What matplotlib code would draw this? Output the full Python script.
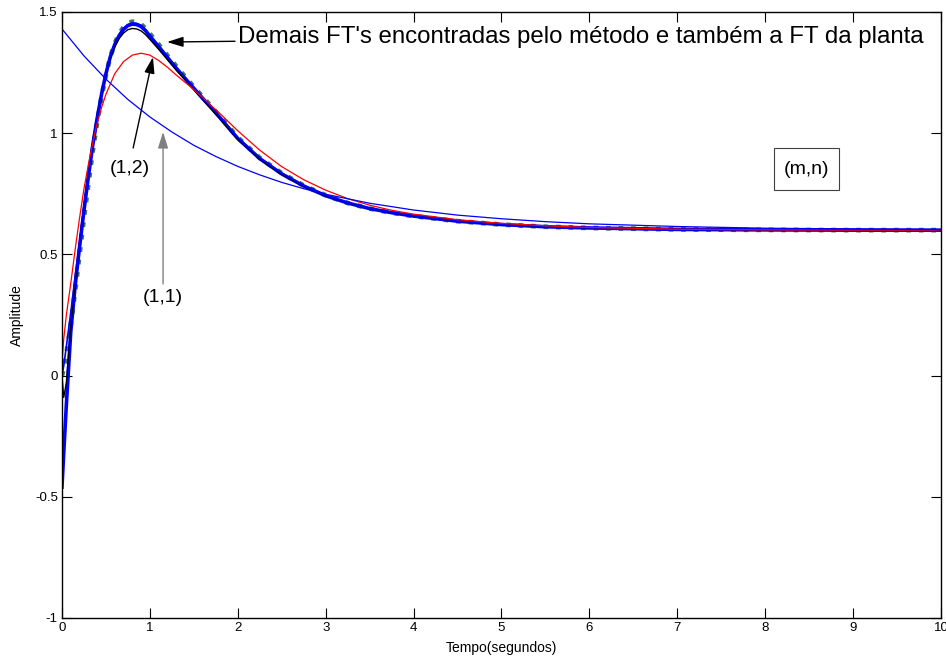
import matplotlib
matplotlib.use("Agg")
import matplotlib.pyplot as plt
from matplotlib.patches import Rectangle

plt.rcParams['font.family'] = ['Liberation Sans', 'DejaVu Sans']

# tempo comum das respostas ao degrau das FT's encontradas
t_main = [0, 0.02, 0.05, 0.1, 0.15, 0.2, 0.25, 0.3, 0.35, 0.4, 0.45, 0.5,
          0.55, 0.6, 0.65, 0.7, 0.75, 0.8, 0.85, 0.9, 0.95, 1.0, 1.1, 1.2,
          1.3, 1.4, 1.5, 1.6, 1.7, 1.8, 1.9, 2.0, 2.25, 2.5, 2.75, 3.0, 3.25,
          3.5, 3.75, 4.0, 4.5, 5.0, 5.5, 6.0, 7.0, 8.0, 9.0, 10.0]

# FT da planta (pontilhado verde)
y_planta = [0, 0.03, 0.09, 0.21, 0.35, 0.50, 0.65, 0.79, 0.925, 1.045, 1.15,
            1.24, 1.315, 1.37, 1.41, 1.437, 1.453, 1.46, 1.458, 1.449, 1.432,
            1.41, 1.366, 1.32, 1.276, 1.233, 1.191, 1.15, 1.109, 1.068, 1.025,
            0.982, 0.898, 0.835, 0.784, 0.744, 0.712, 0.689, 0.672, 0.658,
            0.637, 0.623, 0.614, 0.609, 0.603, 0.601, 0.600, 0.600]

# demais FT's
y_azul_grossa = [-0.46, -0.32, -0.12, 0.18, 0.37, 0.53, 0.68, 0.82, 0.95,
                 1.06, 1.16, 1.245, 1.315, 1.365, 1.402, 1.428, 1.444, 1.45,
                 1.448, 1.44, 1.423, 1.40, 1.357, 1.312, 1.268, 1.226, 1.185,
                 1.144, 1.104, 1.063, 1.02, 0.978, 0.895, 0.832, 0.782, 0.742,
                 0.712, 0.689, 0.672, 0.658, 0.637, 0.623, 0.614, 0.609,
                 0.603, 0.601, 0.600, 0.600]

y_preta = [0, -0.09, -0.03, 0.20, 0.38, 0.55, 0.70, 0.84, 0.965, 1.07, 1.165,
           1.245, 1.31, 1.357, 1.39, 1.413, 1.427, 1.432, 1.43, 1.422, 1.407,
           1.387, 1.346, 1.303, 1.26, 1.22, 1.18, 1.139, 1.099, 1.058, 1.016,
           0.975, 0.893, 0.83, 0.781, 0.741, 0.712, 0.689, 0.672, 0.658,
           0.637, 0.623, 0.614, 0.609, 0.603, 0.601, 0.600, 0.600]

y_azul = [0, 0.04, 0.12, 0.26, 0.41, 0.55, 0.70, 0.835, 0.96, 1.07, 1.165,
          1.25, 1.32, 1.37, 1.407, 1.433, 1.448, 1.455, 1.453, 1.445, 1.428,
          1.405, 1.361, 1.316, 1.272, 1.23, 1.189, 1.148, 1.108, 1.067, 1.024,
          0.982, 0.898, 0.835, 0.784, 0.744, 0.713, 0.69, 0.673, 0.659,
          0.638, 0.624, 0.615, 0.609, 0.603, 0.601, 0.600, 0.600]

# FT (1,2)
t_12 = [0, 0.02, 0.05, 0.1, 0.15, 0.2, 0.25, 0.3, 0.35, 0.4, 0.45, 0.5, 0.6,
        0.7, 0.8, 0.9, 1.0, 1.1, 1.2, 1.3, 1.4, 1.5, 1.6, 1.7, 1.8, 1.9, 2.0,
        2.25, 2.5, 2.75, 3.0, 3.25, 3.5, 3.75, 4.0, 4.5, 5.0, 5.5, 6.0, 7.0,
        8.0, 9.0, 10.0]
y_12 = [0.05, 0.15, 0.25, 0.38, 0.52, 0.65, 0.77, 0.87, 0.96, 1.04, 1.105,
        1.16, 1.245, 1.295, 1.322, 1.33, 1.322, 1.30, 1.272, 1.24, 1.21,
        1.18, 1.147, 1.113, 1.08, 1.045, 1.01, 0.93, 0.862, 0.808, 0.765,
        0.73, 0.703, 0.682, 0.666, 0.643, 0.628, 0.618, 0.611, 0.604, 0.601,
        0.600, 0.600]

# FT (1,1)
t_11 = [0, 0.25, 0.5, 0.75, 1.0, 1.25, 1.5, 1.75, 2.0, 2.25, 2.5, 2.75, 3.0,
        3.5, 4.0, 4.5, 5.0, 5.5, 6.0, 7.0, 8.0, 9.0, 10.0]
y_11 = [1.43, 1.319, 1.223, 1.139, 1.067, 1.005, 0.95, 0.904, 0.863, 0.828,
        0.797, 0.771, 0.748, 0.711, 0.683, 0.662, 0.647, 0.635, 0.626, 0.615,
        0.608, 0.605, 0.602]

fig = plt.figure(figsize=(9.46, 6.58), dpi=100)
ax = fig.add_axes([0.0655, 0.0608, 0.9292, 0.921])

ax.plot(t_main, y_planta, ':', color='#3d7a55', lw=3.4)
ax.plot(t_main, y_azul_grossa, '-', color='#0000ff', lw=2.6)
ax.plot(t_main, y_preta, '-', color='k', lw=1.0)
ax.plot(t_main, y_azul, '-', color='#0000ff', lw=1.2)
ax.plot(t_12, y_12, '-', color='#ff0000', lw=0.9)
ax.plot(t_11, y_11, '-', color='#0000ff', lw=0.9)

ax.set_xlim(0, 10)
ax.set_ylim(-1, 1.5)
ax.set_xticks(range(0, 11))
ax.set_yticks([-1, -0.5, 0, 0.5, 1, 1.5])
ax.set_yticklabels(['-1', '-0.5', '0', '0.5', '1', '1.5'])
ax.tick_params(direction='in', length=7, width=0.8, top=True, right=True,
               labelsize=9.5, pad=3)
for s in ax.spines.values():
    s.set_linewidth(1.0)

ax.set_xlabel('Tempo(segundos)', fontsize=10, labelpad=5)
ax.set_ylabel('Amplitude', fontsize=10, labelpad=8)

seta = dict(arrowstyle='-|>,head_length=0.7,head_width=0.22', color='k',
            lw=1.0, mutation_scale=14, shrinkA=0, shrinkB=0)

ax.annotate("Demais FT's encontradas pelo método e também a FT da planta",
            xy=(1.195, 1.376), xytext=(2.0, 1.395), fontsize=17.3,
            ha='left', va='center', arrowprops=seta)

ax.annotate('', xy=(1.035, 1.314), xytext=(0.81, 0.939), arrowprops=seta)
ax.text(0.774, 0.856, '(1,2)', fontsize=14, ha='center', va='center')

seta_cinza = dict(seta, color='#808080')
ax.annotate('', xy=(1.15, 1.005), xytext=(1.15, 0.378), arrowprops=seta_cinza)
ax.text(1.15, 0.324, '(1,1)', fontsize=14, ha='center', va='center')

# caixa da legenda (m,n)
ax.add_patch(Rectangle((8.1, 0.766), 0.74, 0.173, fc='white', ec='#404040',
                       lw=0.8, zorder=3))
ax.text(8.47, 0.852, '(m,n)', fontsize=14, ha='center', va='center', zorder=4)

fig.savefig('out.png', dpi=100)
